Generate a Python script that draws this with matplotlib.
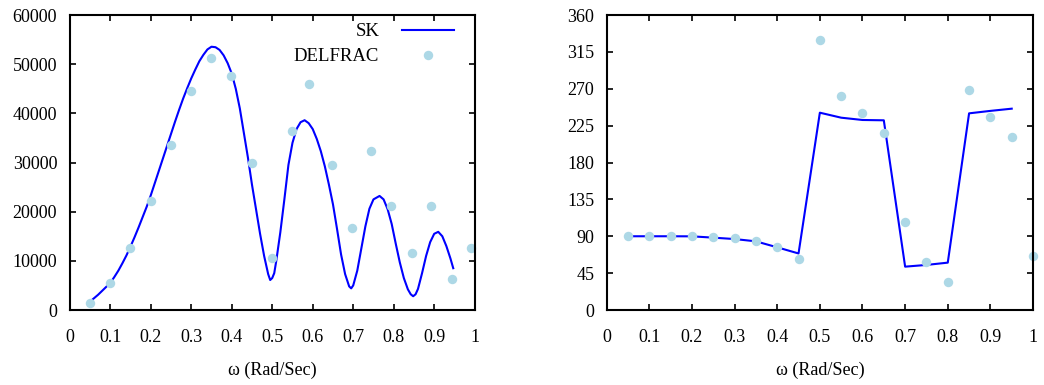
import matplotlib.pyplot as plt
import numpy as np

plt.rcParams['font.family'] = ['Liberation Serif', 'DejaVu Serif']

# amplitude (gauche) : courbe SK, relevée tous les 0.01 environ
sk_w = [0.05, 0.06, 0.07, 0.08, 0.09, 0.1, 0.11, 0.12, 0.13, 0.14, 0.15,
        0.16, 0.17, 0.18, 0.19, 0.2, 0.21, 0.22, 0.23, 0.24, 0.25, 0.26,
        0.27, 0.28, 0.29, 0.3, 0.31, 0.32, 0.33, 0.34, 0.35, 0.36, 0.37,
        0.38, 0.39, 0.4, 0.41, 0.42, 0.43, 0.44, 0.45, 0.46, 0.47, 0.48,
        0.49, 0.495, 0.5, 0.505, 0.51, 0.52, 0.53, 0.54, 0.55, 0.56, 0.57,
        0.58, 0.59, 0.6, 0.61, 0.62, 0.63, 0.64, 0.65, 0.66, 0.67, 0.68,
        0.69, 0.695, 0.7, 0.71, 0.72, 0.73, 0.74, 0.75, 0.765, 0.775, 0.785,
        0.795, 0.805, 0.815, 0.825, 0.835, 0.842, 0.848, 0.854, 0.86, 0.87,
        0.88, 0.89, 0.9, 0.91, 0.92, 0.93, 0.94, 0.947]
sk_amp = [1700, 2400, 3100, 3900, 4700, 5500, 6700, 8000, 9500, 11100, 12900,
          14800, 16800, 18900, 21000, 23300, 25800, 28300, 30800, 33300, 35800,
          38300, 40700, 43000, 45100, 47100, 48900, 50600, 51900, 53000, 53550,
          53450, 52900, 51800, 50200, 48100, 45000, 41000, 36000, 31000, 25500,
          20500, 15500, 11000, 7300, 6100, 6500, 7500, 10000, 15800, 22500,
          29500, 34000, 36800, 38200, 38600, 38000, 36800, 34800, 32300, 29200,
          25500, 21500, 16500, 11300, 7300, 4800, 4400, 5000, 8000, 12500,
          17000, 20600, 22500, 23200, 22500, 20500, 17500, 13500, 9700, 6500,
          4200, 3200, 2800, 3200, 4300, 7500, 11000, 13800, 15500, 15900,
          15000, 13000, 10500, 8500]

# amplitude : points DELFRAC
df_w = [0.05, 0.1, 0.149, 0.2, 0.25, 0.3, 0.348, 0.398, 0.449, 0.5, 0.549,
        0.591, 0.647, 0.698, 0.743, 0.793, 0.844, 0.893, 0.943, 0.991]
df_amp = [1400, 5560, 12540, 22100, 33500, 44600, 51260, 47660, 29900, 10640,
          36400, 45970, 29560, 16740, 32400, 21150, 11590, 21150, 6240, 12540]

# phase (droite)
ph_w = [0.05, 0.1, 0.15, 0.2, 0.25, 0.3, 0.35, 0.4, 0.45, 0.5, 0.55, 0.6,
        0.65, 0.7, 0.75, 0.8, 0.85, 0.9, 0.95]
sk_ph = [90, 90, 90, 89.9, 88.3, 86.6, 83.8, 76.5, 69, 240.8, 234.7, 231.9,
         231.5, 52.9, 55, 57.8, 240, 243, 245.7]
df_ph_w = [0.05, 0.1, 0.15, 0.2, 0.25, 0.3, 0.35, 0.4, 0.45, 0.5, 0.55, 0.6,
           0.65, 0.7, 0.75, 0.8, 0.85, 0.9, 0.95, 1.0]
df_ph = [90, 90, 90, 90, 89, 87.8, 84, 76.5, 62.4, 329.5, 261.2, 240.8,
         215.6, 107, 58.2, 34.2, 268, 235.2, 211.1, 65.9]

xticks = np.arange(0, 1.01, 0.1)
xlabels = ["0", "0.1", "0.2", "0.3", "0.4", "0.5", "0.6", "0.7", "0.8", "0.9", "1"]

fig = plt.figure(figsize=(10.44, 3.85), dpi=100)
ax1 = fig.add_axes([0.0668, 0.1948, 0.3879, 0.7662])
ax2 = fig.add_axes([0.5811, 0.1948, 0.4084, 0.7662])

ax1.plot(sk_w, sk_amp, color='#0000ff', lw=1.5, label='SK')
ax1.plot(df_w, df_amp, 'o', color='#add8e6', ms=6.8, mec='none',
         clip_on=False, label='DELFRAC')
ax1.set_ylim(0, 60000)
ax1.set_yticks(range(0, 60001, 10000))
ax1.legend(loc='upper right', markerfirst=False, frameon=False,
           fontsize=13.5, handlelength=2.8, borderaxespad=0.2,
           labelspacing=0.4, handletextpad=1.2, bbox_to_anchor=(0.977, 1.01))

ax2.plot(ph_w, sk_ph, color='#0000ff', lw=1.5)
ax2.plot(df_ph_w, df_ph, 'o', color='#add8e6', ms=6.8, mec='none',
         clip_on=False)
ax2.set_ylim(0, 360)
ax2.set_yticks(range(0, 361, 45))

for ax in (ax1, ax2):
    ax.set_xlim(0, 1)
    ax.set_xticks(xticks)
    ax.set_xticklabels(xlabels)
    ax.tick_params(direction='in', top=True, right=True, length=4, width=1.2,
                   labelsize=13, pad=9)
    ax.tick_params(axis='x', pad=14)
    for s in ax.spines.values():
        s.set_linewidth(1.5)
    ax.set_xlabel("ω (Rad/Sec)", fontsize=13, labelpad=11)

plt.savefig("out.png")
